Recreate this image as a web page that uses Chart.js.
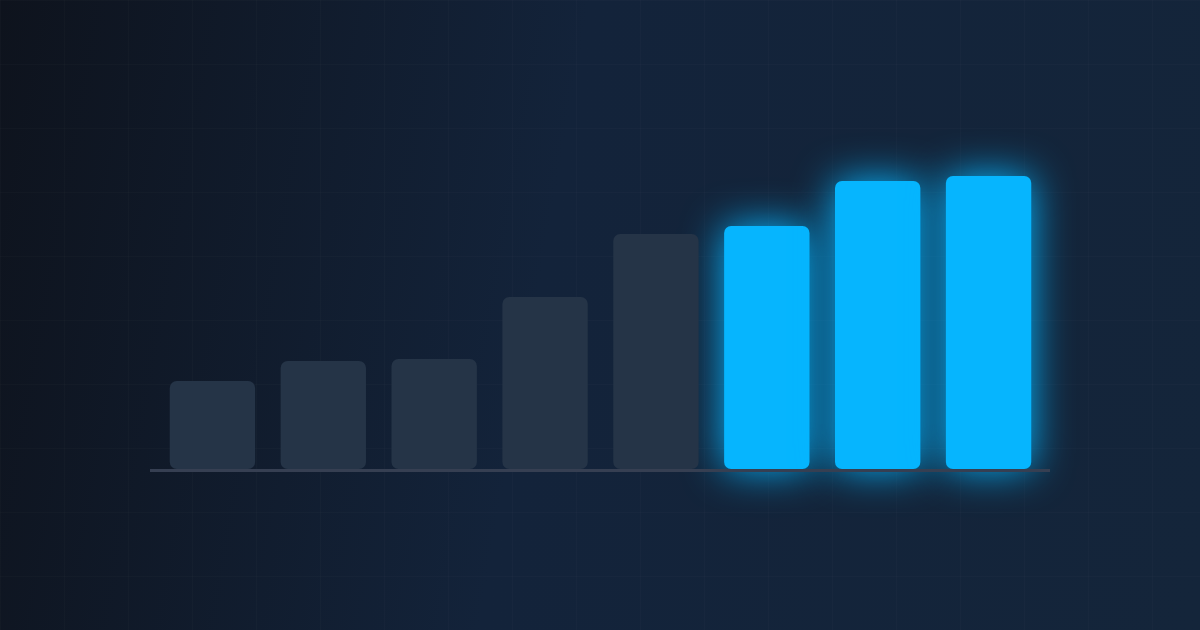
<!DOCTYPE html>
<html>
<head>
<meta charset="utf-8">
<script src="https://cdn.jsdelivr.net/npm/chart.js@4"></script>
<style>
  html, body { margin: 0; padding: 0; }
  body {
    width: 1200px; height: 630px; overflow: hidden;
    background-color: #111a29;
    background-image:
      linear-gradient(rgba(255,255,255,0.016) 1px, transparent 1px),
      linear-gradient(90deg, rgba(255,255,255,0.016) 1px, transparent 1px),
      linear-gradient(100deg, #0e131d 0%, #13233a 45%, #14253a 100%);
    background-size: 64px 64px, 64px 64px, 100% 100%;
  }
  #wrap { position: relative; width: 1200px; height: 630px; }
</style>
</head>
<body>
<div id="wrap"><canvas id="barChart"></canvas></div>
<script>
// Data
var categories = ['1', '2', '3', '4', '5', '6', '7', '8'];
var values = [88, 108, 110, 172, 235, 243, 288, 293];
var highlightFrom = 5; // last three bars are lit

var pastValues = values.map(function(v, i) { return i < highlightFrom ? v : null; });
var litValues = values.map(function(v, i) { return i >= highlightFrom ? v : null; });

// Glow for the lit bars + baseline across the bottom
var glowPlugin = {
    id: 'glow',
    beforeDatasetDraw: function(chart, args) {
        if (args.index === 1) {
            var ctx = chart.ctx;
            ctx.save();
            ctx.shadowColor = 'rgba(6, 182, 255, 1)';
            ctx.shadowBlur = 40;
        }
    },
    afterDatasetDraw: function(chart, args) {
        if (args.index === 1) chart.ctx.restore();
    },
    afterDatasetsDraw: function(chart) {
        var ctx = chart.ctx;
        var area = chart.chartArea;
        var y0 = chart.scales.y.getPixelForValue(0);
        ctx.save();
        ctx.strokeStyle = '#363f52';
        ctx.lineWidth = 3;
        ctx.beginPath();
        ctx.moveTo(area.left - 7, y0 + 1.5);
        ctx.lineTo(area.right + 6, y0 + 1.5);
        ctx.stroke();
        ctx.restore();
    }
};

var ctx = document.getElementById('barChart').getContext('2d');
var barChart = new Chart(ctx, {
    type: 'bar',
    data: {
        labels: categories,
        datasets: [{
            data: pastValues,
            backgroundColor: '#253447',
            borderRadius: 7,
            borderSkipped: false
        }, {
            data: litValues,
            backgroundColor: '#06b5fe',
            borderRadius: 7,
            borderSkipped: false,
            clip: false
        }]
    },
    options: {
        responsive: true,
        maintainAspectRatio: false,
        animation: false,
        layout: {
            padding: { left: 157, right: 156, top: 169, bottom: 161 }
        },
        datasets: {
            bar: {
                grouped: false,
                categoryPercentage: 1,
                barPercentage: 0.77
            }
        },
        scales: {
            x: { display: false },
            y: { display: false, min: 0, max: 300 }
        },
        plugins: {
            legend: { display: false },
            tooltip: { enabled: false }
        }
    },
    plugins: [glowPlugin]
});
</script>
</body>
</html>
